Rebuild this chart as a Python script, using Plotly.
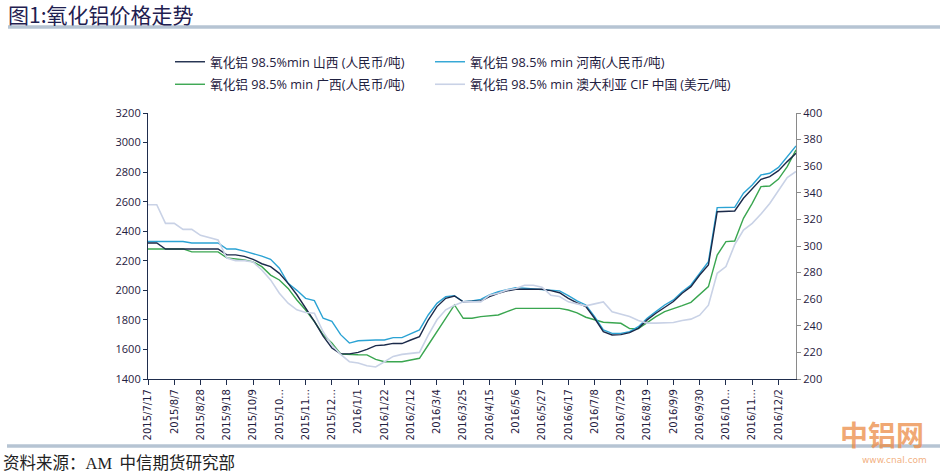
import pandas as pd
import plotly.graph_objects as go

# weekly dates, Friday 2015/7/17 .. 2016/12/16
dates = pd.date_range("2015-07-17", periods=75, freq="7D")
labels = [f"{d.year}/{d.month}/{d.day}" for d in dates]

shanxi = [2320, 2320, 2280, 2280, 2280, 2280, 2280, 2280, 2280, 2240,
          2240, 2230, 2210, 2180, 2160, 2115, 2047, 1970, 1880, 1790,
          1690, 1610, 1570, 1570, 1580, 1600, 1626, 1630, 1641, 1640,
          1664, 1687, 1799, 1890, 1946, 1962, 1923, 1923, 1928, 1957,
          1980, 1996, 2007, 2007, 2007, 2007, 1998, 1984, 1946, 1915,
          1890, 1811, 1720, 1698, 1700, 1714, 1743, 1800, 1845, 1885,
          1924, 1980, 2025, 2104, 2172, 2532, 2537, 2537, 2623, 2690,
          2751, 2769, 2810, 2871, 2927]

henan = [2330, 2330, 2330, 2330, 2330, 2320, 2320, 2320, 2320, 2280,
         2280, 2265, 2250, 2232, 2210, 2150, 2047, 2000, 1946, 1930,
         1811, 1790, 1700, 1643, 1659, 1664, 1664, 1664, 1680, 1680,
         1705, 1732, 1833, 1912, 1957, 1964, 1923, 1928, 1939, 1969,
         1991, 2007, 2018, 2014, 2009, 2007, 2002, 1996, 1964, 1928,
         1901, 1822, 1732, 1709, 1709, 1720, 1754, 1811, 1856, 1901,
         1935, 1991, 2036, 2115, 2194, 2560, 2562, 2562, 2657, 2713,
         2781, 2792, 2832, 2905, 2977]

guangxi = [2280, 2280, 2280, 2280, 2280, 2260, 2260, 2260, 2260, 2220,
           2215, 2205, 2193, 2160, 2103, 2070, 2013, 1935, 1867, 1789,
           1699, 1643, 1569, 1564, 1564, 1563, 1533, 1517, 1517, 1517,
           1529, 1540, 1630, 1720, 1811, 1901, 1811, 1811, 1822, 1829,
           1833, 1856, 1878, 1878, 1878, 1878, 1878, 1878, 1867, 1848,
           1818, 1800, 1784, 1781, 1777, 1741, 1741, 1781, 1822, 1856,
           1874, 1896, 1919, 1969, 2025, 2239, 2330, 2334, 2487, 2589,
           2702, 2706, 2753, 2837, 2950]

australia = [331, 331, 317, 317, 312.5, 312.5, 308, 306, 304.5, 291,
             289, 289, 288, 282, 274.5, 264.5, 257, 252, 250, 249.5,
             235.5, 225.5, 218.5, 213, 212, 210, 209, 213, 217, 218.5,
             219, 220, 233, 244.5, 252, 255.5, 258, 258, 258, 263,
             264.5, 267, 268, 270.5, 270.5, 269, 263, 262, 258, 256.5,
             255, 256.5, 258, 250.5, 248.5, 247, 244, 242, 242, 242,
             242.5, 244, 245, 248, 255.5, 279.5, 284.5, 301, 312, 317,
             324, 332, 341.5, 351.5, 356]

names = ["氧化铝 98.5%min 山西 (人民币/吨)",
         "氧化铝 98.5% min 河南(人民币/吨)",
         "氧化铝 98.5% min 广西(人民币/吨)",
         "氧化铝 98.5% min 澳大利亚 CIF 中国 (美元/吨)"]
colors = ["#1b2a4a", "#2ba3d4", "#3aa650", "#c9d2e6"]


def short(t):
    return t if len(t) <= 9 else t[:7] + "..."


tick_vals = labels[::3]
tick_text = [short(t) for t in tick_vals]

fig = go.Figure()
fig.add_trace(go.Scatter(x=labels, y=australia, name=names[3], yaxis="y2", mode="lines",
                         line=dict(color=colors[3], width=1.6), legend="legend2",
                         legendgroup="d", legendrank=2))
fig.add_trace(go.Scatter(x=labels, y=guangxi, name=names[2], mode="lines",
                         line=dict(color=colors[2], width=1.4), legend="legend",
                         legendgroup="c", legendrank=2))
fig.add_trace(go.Scatter(x=labels, y=henan, name=names[1], mode="lines",
                         line=dict(color=colors[1], width=1.4), legend="legend2",
                         legendgroup="b", legendrank=1))
fig.add_trace(go.Scatter(x=labels, y=shanxi, name=names[0], mode="lines",
                         line=dict(color=colors[0], width=1.4), legend="legend",
                         legendgroup="a", legendrank=1))

W, H = 940, 474
L, R, T, B = 148, 144, 113, 95
pw, ph = W - L - R, H - T - B


def px(x):
    return (x - L) / pw


def py(y):
    return (H - B - y) / ph


legend_font = dict(family="Open Sans, Noto Sans CJK SC", size=12.7, color="#1f2040")
fig.update_layout(
    width=W, height=H,
    margin=dict(l=L, r=R, t=T, b=B),
    paper_bgcolor="white", plot_bgcolor="white",
    showlegend=True,
    legend=dict(x=px(170), y=py(47), xanchor="left", yanchor="top", font=legend_font,
                bgcolor="rgba(0,0,0,0)", traceorder="grouped", tracegroupgap=3),
    legend2=dict(x=px(430), y=py(47), xanchor="left", yanchor="top", font=legend_font,
                 bgcolor="rgba(0,0,0,0)", traceorder="grouped", tracegroupgap=3),
    xaxis=dict(type="category", range=[0, len(labels) - 1], tickmode="array",
               tickvals=tick_vals, ticktext=tick_text, tickangle=-90,
               showgrid=False, showline=True, linecolor="#1f2d4d", linewidth=1.2,
               ticks="outside", ticklen=5, tickcolor="#1f2d4d",
               tickfont=dict(family="DejaVu Sans", size=10, color="#1f2040")),
    yaxis=dict(range=[1400, 3200], dtick=200, showgrid=False, zeroline=False,
               showline=True, linecolor="#1f2d4d", linewidth=1.2,
               ticks="outside", ticklen=4, tickcolor="#1f2d4d",
               tickfont=dict(family="Open Sans", size=11, color="#1f2040")),
    yaxis2=dict(range=[200, 400], dtick=20, overlaying="y", side="right",
                showgrid=False, zeroline=False, showline=True,
                linecolor="#8a8a8a", linewidth=1.2, ticks="outside", ticklen=4,
                tickcolor="#8a8a8a",
                tickfont=dict(family="Open Sans", size=11, color="#1f2040")),
    shapes=[
        dict(type="line", xref="paper", yref="paper", x0=px(8), x1=px(940),
             y0=py(27), y1=py(27), line=dict(color="#b6c4d3", width=3.5)),
        dict(type="line", xref="paper", yref="paper", x0=px(7), x1=px(940),
             y0=py(446), y1=py(446), line=dict(color="#b6c4d3", width=3.5)),
    ],
    annotations=[
        dict(text="图1:氧化铝价格走势", xref="paper", yref="paper", x=px(6), y=py(14),
             xanchor="left", yanchor="middle", showarrow=False,
             font=dict(family="Noto Sans CJK SC", size=21, color="#1f2050")),
        dict(text="资料来源：<span style='font-family:Liberation Serif'>AM</span>  中信期货研究部",
             xref="paper", yref="paper", x=px(1), y=py(462),
             xanchor="left", yanchor="middle", showarrow=False,
             font=dict(family="Noto Sans CJK SC", size=16.5, color="#222222")),
        dict(text="<b>中铝网</b>", xref="paper", yref="paper", x=px(882), y=py(434),
             xanchor="center", yanchor="middle", showarrow=False,
             font=dict(family="Noto Sans CJK SC", size=28, color="rgba(236,140,70,0.75)")),
        dict(text="www.cnal.com", xref="paper", yref="paper", x=px(895), y=py(460),
             xanchor="center", yanchor="middle", showarrow=False,
             font=dict(family="DejaVu Sans", size=9, color="rgba(236,140,70,0.7)")),
    ],
)

fig.write_html("out.html", config={"displayModeBar": False},
               post_script="document.body.style.margin='0';")
